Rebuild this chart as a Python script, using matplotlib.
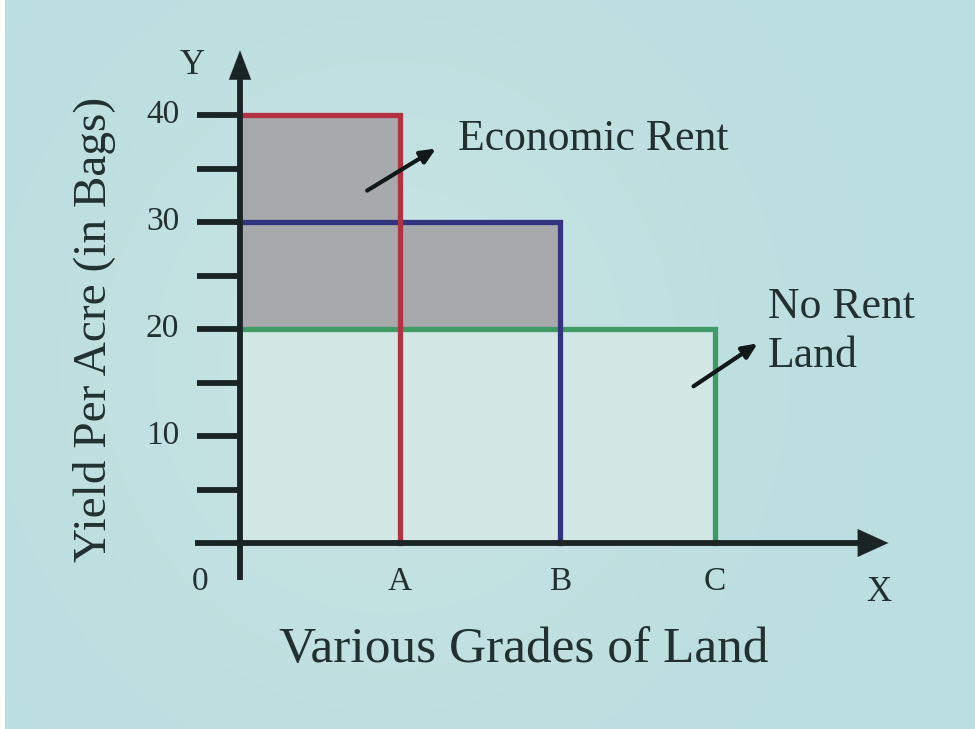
import numpy as np
import matplotlib
matplotlib.use("Agg")
import matplotlib.pyplot as plt

# Land grades and their yields per acre (bags)
grades = ["A", "B", "C"]
grade_pos = [1.0, 2.0, 2.97]
yields = [40, 30, 20]
line_colors = ["#b23244", "#33337e", "#3f9a66"]
ytick_values = [10, 20, 30, 40]
minor_ticks = [5, 10, 15, 20, 25, 30, 35, 40]

no_rent_yield = min(yields)

plt.rcParams["font.family"] = ["Liberation Serif", "DejaVu Serif"]
text_color = "#223030"
axis_color = "#1b2424"

fig = plt.figure(figsize=(9.75, 7.29), dpi=100)
ax = fig.add_axes([0, 0, 1, 1])
# data limits chosen so one grade = 160 px and one bag = 10.7 px
x0, x1 = -240 / 160, (975 - 240) / 160
y0, y1 = (543 - 729) / 10.7, 543 / 10.7
ax.set_xlim(x0, x1)
ax.set_ylim(y0, y1)
ax.axis("off")

# soft teal background with a lighter middle
gx = np.linspace(0, 1, 400)
gy = np.linspace(0, 1, 300)
GX, GY = np.meshgrid(gx, gy)
base = np.array([187, 222, 224]) / 255
light = np.array([208, 231, 228]) / 255
w = np.exp(-((GX - 0.4) ** 2) / 0.10 - ((GY - 0.5) ** 2) / 0.2) * 0.6
img = base[None, None, :] * (1 - w[..., None]) + light[None, None, :] * w[..., None]
ax.imshow(img, extent=[x0, x1, y0, y1], aspect="auto", zorder=0, origin="lower")
# thin white strip on the left edge
ax.axvspan(x0, x0 + 5 / 160, color="white", zorder=0.5, lw=0)

# lighter field under the no-rent level
ax.fill_between([0, grade_pos[-1]], 0, no_rent_yield, color="#d3e8e5", zorder=1, lw=0)

# economic rent (surplus over the no-rent land)
edges = [0] + grade_pos
rent_top = yields + [yields[-1]]
ax.fill_between(edges, no_rent_yield, rent_top, step="post",
                color="#a7a9ac", zorder=1.5, lw=0)

# outline of each grade's yield rectangle
for pos, yv, col in reversed(list(zip(grade_pos, yields, line_colors))):
    ax.plot([0, pos, pos], [yv, yv, 0], color=col, lw=3.8, zorder=3,
            solid_joinstyle="miter")

# axes with arrow heads
ax.plot([-0.28, 3.9], [0, 0], color=axis_color, lw=4.2, zorder=4,
        solid_capstyle="butt")
ax.plot([0, 0], [-3.5, 43.5], color=axis_color, lw=4.2, zorder=4,
        solid_capstyle="butt")
ax.annotate("", xy=(4.07, 0), xytext=(3.75, 0),
            arrowprops=dict(arrowstyle="-|>,head_length=2.2,head_width=1.0",
                            color=axis_color, lw=0.1), zorder=5)
ax.annotate("", xy=(0, 46.3), xytext=(0, 41.5),
            arrowprops=dict(arrowstyle="-|>,head_length=2.1,head_width=0.8",
                            color=axis_color, lw=0.1), zorder=5)

# y-axis tick marks
for t in minor_ticks:
    ax.plot([-0.27, 0], [t, t], color=axis_color, lw=4.2, zorder=4,
            solid_capstyle="butt")
for t in ytick_values:
    ax.text(-0.38, t, str(t), ha="right", va="center", fontsize=24,
            color=text_color, zorder=6)

# grade labels on the x axis
ax.text(-0.25, -3.6, "0", ha="center", va="center", fontsize=24, color=text_color)
for pos, g in zip(grade_pos, grades):
    ax.text(pos, -3.6, g, ha="center", va="center", fontsize=24, color=text_color)
ax.text(3.99, -4.6, "X", ha="center", va="center", fontsize=25, color=text_color)
ax.text(-0.3, 44.6, "Y", ha="center", va="center", fontsize=25, color=text_color)

ax.text(1.77, -10.0, "Various Grades of Land", ha="center", va="center",
        fontsize=37, color=text_color)
ax.text(-0.91, 20.0, "Yield Per Acre (in Bags)", ha="center", va="center",
        rotation=90, fontsize=34, color=text_color)

# annotations
ax.text(1.36, 37.8, "Economic Rent", ha="left", va="center", fontsize=31.5,
        color=text_color)
ax.annotate("", xy=(1.24, 37.0), xytext=(0.78, 32.8),
            arrowprops=dict(arrowstyle="-|>,head_length=0.9,head_width=0.4",
                            color="#111818", lw=3.0), zorder=6)
ax.text(3.3, 22.1, "No Rent", ha="left", va="center", fontsize=31.5,
        color=text_color)
ax.text(3.3, 17.5, "Land", ha="left", va="center", fontsize=31.5,
        color=text_color)
ax.annotate("", xy=(3.25, 18.8), xytext=(2.82, 14.5),
            arrowprops=dict(arrowstyle="-|>,head_length=0.9,head_width=0.4",
                            color="#111818", lw=3.0), zorder=6)

fig.savefig("out.png", dpi=100)
